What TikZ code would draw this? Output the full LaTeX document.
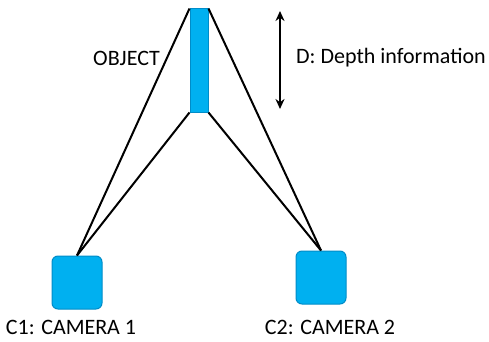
\documentclass[tikz,border=0pt]{standalone}
\usepackage{fontspec}
\setmainfont{Carlito}
\usetikzlibrary{arrows.meta}

\definecolor{skyblue}{RGB}{0,176,240}
\definecolor{skyedge}{RGB}{0,140,200}

\tikzset{
  camera/.style={draw=skyedge, fill=skyblue, line width=1pt, rounded corners=6pt,
    minimum width=50pt, minimum height=53pt, inner sep=0pt},
  objbar/.style={draw=skyedge, fill=skyblue, line width=1pt,
    minimum width=18pt, minimum height=103pt, inner sep=0pt},
  ray/.style={line width=2pt, black},
  lbl/.style={font=\fontsize{22}{26}\selectfont, inner sep=0pt}
}

\begin{document}
\begin{tikzpicture}[x=1pt,y=-1pt]
\useasboundingbox (0,0) rectangle (489,342);

% object and cameras
\node[objbar] (obj) at (199,60.5) {};
\node[camera] (cam1) at (77,282.5) {};
\node[camera] (cam2) at (321,277.5) {};

% rays from each camera to the ends of the object
\draw[ray] (cam1.north) -- (obj.north west);
\draw[ray] (cam1.north) -- (obj.south west);
\draw[ray] (cam2.north) -- (obj.north east);
\draw[ray] (cam2.north) -- (obj.south east);

% depth arrow
\coordinate (dtop) at (280,11);
\coordinate (dbot) at (280,109);
\draw[line width=2.5pt, {Stealth[length=10pt,width=9pt]}-{Stealth[length=10pt,width=9pt]}] (dtop) -- (dbot);

\node[lbl, anchor=east] (objlbl) at (160,58) {OBJECT};
\node[lbl, anchor=west] (dlbl) at (296,58) {D: Depth information};
\node[lbl] (c1lbl) at (71,327) {C1: CAMERA 1};
\node[lbl] (c2lbl) at (330,327) {C2: CAMERA 2};
\end{tikzpicture}
\end{document}
